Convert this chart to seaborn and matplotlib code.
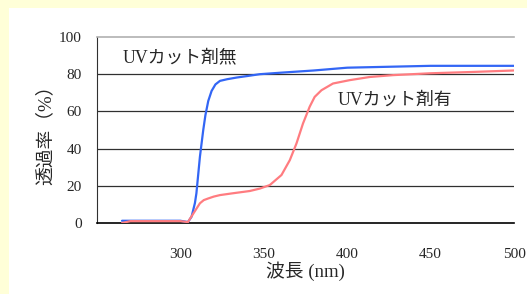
import pandas as pd
import matplotlib
matplotlib.use('Agg')
import matplotlib.pyplot as plt
import seaborn as sns

# UVカット剤無
wl_none = [265, 280, 295, 300, 304.5, 306.7, 308.7, 309.6, 311.7, 313.7, 315, 316.7,
           318.7, 321, 323.7, 328, 333.7, 340, 347.6, 360, 380, 400, 425, 450, 475, 500]
t_none = [1.2, 1.2, 1.2, 1.2, 0.5, 3.4, 10.7, 16, 35.6, 50, 58, 65.6,
          71, 74.5, 76.4, 77.3, 78.2, 79, 80, 80.8, 82, 83.5, 84, 84.5, 84.5, 84.5]

# UVカット剤有
wl_with = [265, 270, 285, 300, 304.5, 307.7, 311.7, 314, 316.7, 320, 323.7, 331.6, 341.6,
           347.6, 353.6, 360.6, 365.6, 369.6, 373.5, 377.5, 380.5, 384.6, 391.5, 401.5,
           413.5, 427.5, 450, 475, 500]
t_with = [0, 1, 1, 1, 0.5, 5, 10.6, 12.3, 13.2, 14.2, 15, 16, 17.2,
          18.5, 20.4, 25.8, 33.8, 42.8, 53.5, 62.5, 67.8, 71.4, 75, 76.8,
          78.5, 79.5, 80.5, 81.2, 82]

series_names = ['UVカット剤無', 'UVカット剤有']
x_ticks = [300, 350, 400, 450, 500]
y_ticks = [0, 20, 40, 60, 80, 100]

df = pd.concat([
    pd.DataFrame({'波長': wl_none, '透過率': t_none, '条件': series_names[0]}),
    pd.DataFrame({'波長': wl_with, '透過率': t_with, '条件': series_names[1]}),
])

sns.set_style('white')
fams = ['Liberation Serif', 'Noto Sans CJK JP']
plt.rcParams['font.family'] = fams

fig = plt.figure(figsize=(5.27, 2.94), dpi=100)
fig.patch.set_facecolor('white')
# 黄色い縁
fig.patches.append(plt.Rectangle((0, 1 - 8 / 294), 1, 8 / 294, transform=fig.transFigure,
                                 facecolor='#FFFFD8', edgecolor='none', zorder=-10))
fig.patches.append(plt.Rectangle((0, 0), 9 / 527, 1, transform=fig.transFigure,
                                 facecolor='#FFFFD8', edgecolor='none', zorder=-10))
ax = fig.add_axes([97 / 527, 1 - 223 / 294, (514 - 97) / 527, (223 - 37) / 294])
ax.set_facecolor('white')

for y in y_ticks[1:-1]:
    ax.axhline(y, color='#303030', lw=0.9, zorder=1)

sns.lineplot(data=df, x='波長', y='透過率', hue='条件',
             palette={series_names[0]: '#3366F5', series_names[1]: '#FF7C80'},
             linewidth=1.6, legend=False, ax=ax, zorder=3)

ax.set_xlim(250, 500)
ax.set_ylim(0, 100)
ax.set_xticks(x_ticks)
ax.set_yticks(y_ticks)
ax.tick_params(axis='x', direction='in', length=5, width=1, color='black', pad=18, labelsize=11)
ax.tick_params(axis='y', length=0, pad=11, labelsize=11)

ax.spines['right'].set_visible(False)
ax.spines['top'].set_color('#B0B0B0')
ax.spines['top'].set_linewidth(1.2)
ax.spines['left'].set_color('#303030')
ax.spines['bottom'].set_color('black')
ax.spines['bottom'].set_linewidth(1.2)

ax.set_xlabel('波長 (nm)', fontsize=13.5, labelpad=0)
ax.set_ylabel('透過率（%）', fontsize=13.5, labelpad=3)

ax.text(265.6, 89, series_names[0], fontsize=12.8, va='center', ha='left', family=fams)
ax.text(394.3, 66, series_names[1], fontsize=12.8, va='center', ha='left', family=fams)

fig.savefig('out.png', dpi=100, facecolor=fig.get_facecolor())
